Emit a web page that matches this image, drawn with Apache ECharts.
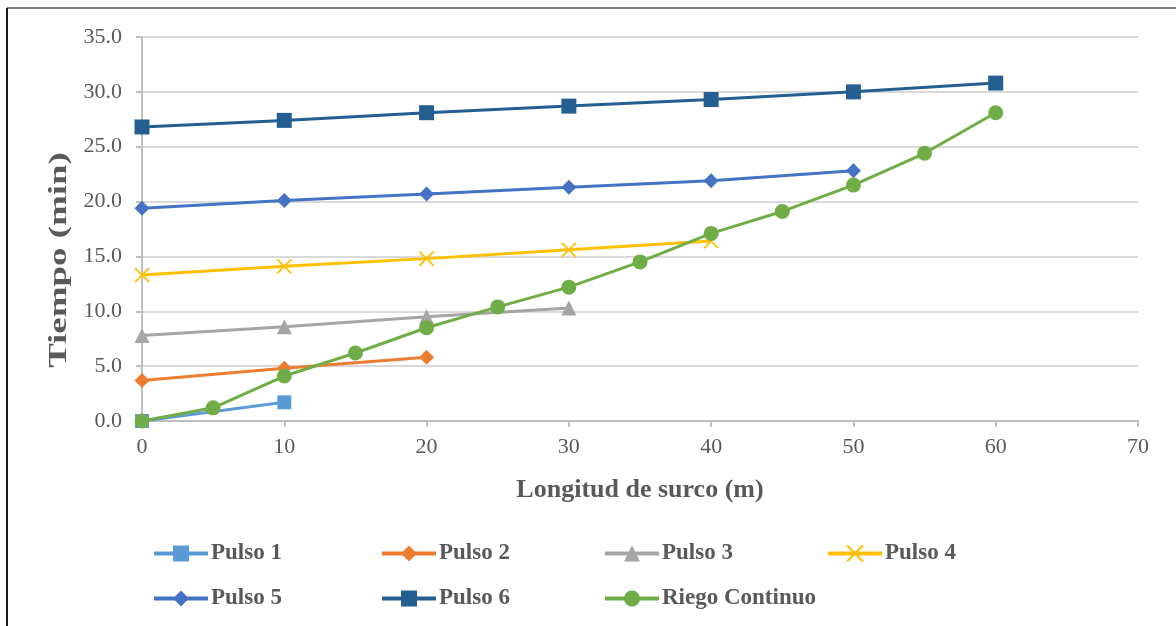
<!DOCTYPE html>
<html>
<head>
<meta charset="utf-8">
<script src="https://cdn.jsdelivr.net/npm/echarts@6/dist/echarts.min.js"></script>
<style>html,body{margin:0;padding:0;background:#fff}#c{width:1176px;height:626px}</style>
</head>
<body>
<div id="c"></div>
<script>
const xPulso = [0, 10, 20, 30, 40, 50, 60];
const xRiego = [0, 5, 10, 15, 20, 25, 30, 35, 40, 45, 50, 55, 60];
const pulso1 = [0.0, 1.7];
const pulso2 = [3.7, 4.8, 5.8];
const pulso3 = [7.8, 8.6, 9.5, 10.3];
const pulso4 = [13.3, 14.1, 14.8, 15.6, 16.4];
const pulso5 = [19.4, 20.1, 20.7, 21.3, 21.9, 22.8];
const pulso6 = [26.8, 27.4, 28.1, 28.7, 29.3, 30.0, 30.8];
const riego = [0.0, 1.2, 4.1, 6.2, 8.5, 10.4, 12.2, 14.5, 17.1, 19.1, 21.5, 24.4, 28.1];
const names = ['Pulso 1', 'Pulso 2', 'Pulso 3', 'Pulso 4', 'Pulso 5', 'Pulso 6', 'Riego Continuo'];
const xTitle = 'Longitud de surco (m)';
const yTitle = 'Tiempo (min)';

const FONT = '"Liberation Serif", "Times New Roman", serif';
const colors = ['#5B9BD5', '#ED7D31', '#A5A5A5', '#FFC000', '#4472C4', '#255E91', '#70AD47'];
const symbols = ['rect', 'diamond', 'triangle', 'path://M0,0L10,10M10,0L0,10', 'diamond', 'rect', 'circle'];
const sizes = [14, 15, 15, 14, 15, 15, 15];
const valuesList = [pulso1, pulso2, pulso3, pulso4, pulso5, pulso6, riego];

function pairs(xs, ys) { return ys.map((v, i) => [xs[i], v]); }

const series = valuesList.map((vals, i) => {
  const isX = i === 3;
  return {
    name: names[i],
    type: 'line',
    data: pairs(i === 6 ? xRiego : xPulso, vals),
    symbol: symbols[i],
    symbolSize: sizes[i],
    showAllSymbol: true,
    lineStyle: { color: colors[i], width: 3 },
    itemStyle: isX ? { color: 'none', borderColor: colors[i], borderWidth: 1.8 } : { color: colors[i], borderWidth: 0 },
    emphasis: { disabled: true },
    z: 2 + i
  };
});

const legendPos = [[152, 542], [380, 542], [603, 542], [826, 542], [152, 587], [380, 587], [603, 587]];
const legends = names.map((n, i) => ({
  data: [n],
  left: legendPos[i][0],
  top: legendPos[i][1],
  itemWidth: 54,
  itemHeight: 20,
  itemGap: 4,
  padding: 0,
  selectedMode: false,
  lineStyle: { width: 4 },
  textStyle: { fontFamily: FONT, fontSize: 23, fontWeight: 'bold', color: '#595959', padding: [0, 0, 0, -2] }
}));

const chart = echarts.init(document.getElementById('c'), null, { renderer: 'canvas' });
chart.setOption({
  animation: false,
  backgroundColor: '#fff',
  grid: { left: 142, right: 38, top: 37, bottom: 205, containLabel: false },
  xAxis: {
    type: 'value', min: 0, max: 70, interval: 10,
    name: xTitle, nameLocation: 'middle', nameGap: 56,
    nameTextStyle: { fontFamily: FONT, fontSize: 26, fontWeight: 'bold', color: '#595959' },
    axisLine: { show: true, lineStyle: { color: '#BFBFBF', width: 2 } },
    axisTick: { show: true, length: 6, lineStyle: { color: '#BFBFBF', width: 2 } },
    axisLabel: { fontFamily: FONT, fontSize: 22, color: '#595959', margin: 15 },
    splitLine: { show: false }
  },
  yAxis: {
    type: 'value', min: 0, max: 35, interval: 5,
    axisLine: { show: true, lineStyle: { color: '#BFBFBF', width: 2 } },
    axisTick: { show: true, length: 6, lineStyle: { color: '#BFBFBF', width: 2 } },
    axisLabel: { fontFamily: FONT, fontSize: 22, color: '#595959', margin: 20, formatter: v => v.toFixed(1) },
    splitLine: { show: true, lineStyle: { color: '#D9D9D9', width: 2 } }
  },
  legend: legends,
  graphic: [
    { type: 'line', shape: { x1: 7, y1: 8, x2: 1176, y2: 8 }, style: { stroke: '#7F7F7F', lineWidth: 2 }, silent: true },
    { type: 'line', shape: { x1: 7, y1: 8, x2: 7, y2: 626 }, style: { stroke: '#1a1a1a', lineWidth: 2 }, silent: true },
    { type: 'text', x: 59, y: 260, rotation: Math.PI / 2, scaleX: 1.42, silent: true,
      style: { text: yTitle, fontFamily: FONT, fontSize: 26, fontWeight: 'bold', fill: '#595959', align: 'center', verticalAlign: 'middle' } }
  ],
  series: series
});
</script>
</body>
</html>
